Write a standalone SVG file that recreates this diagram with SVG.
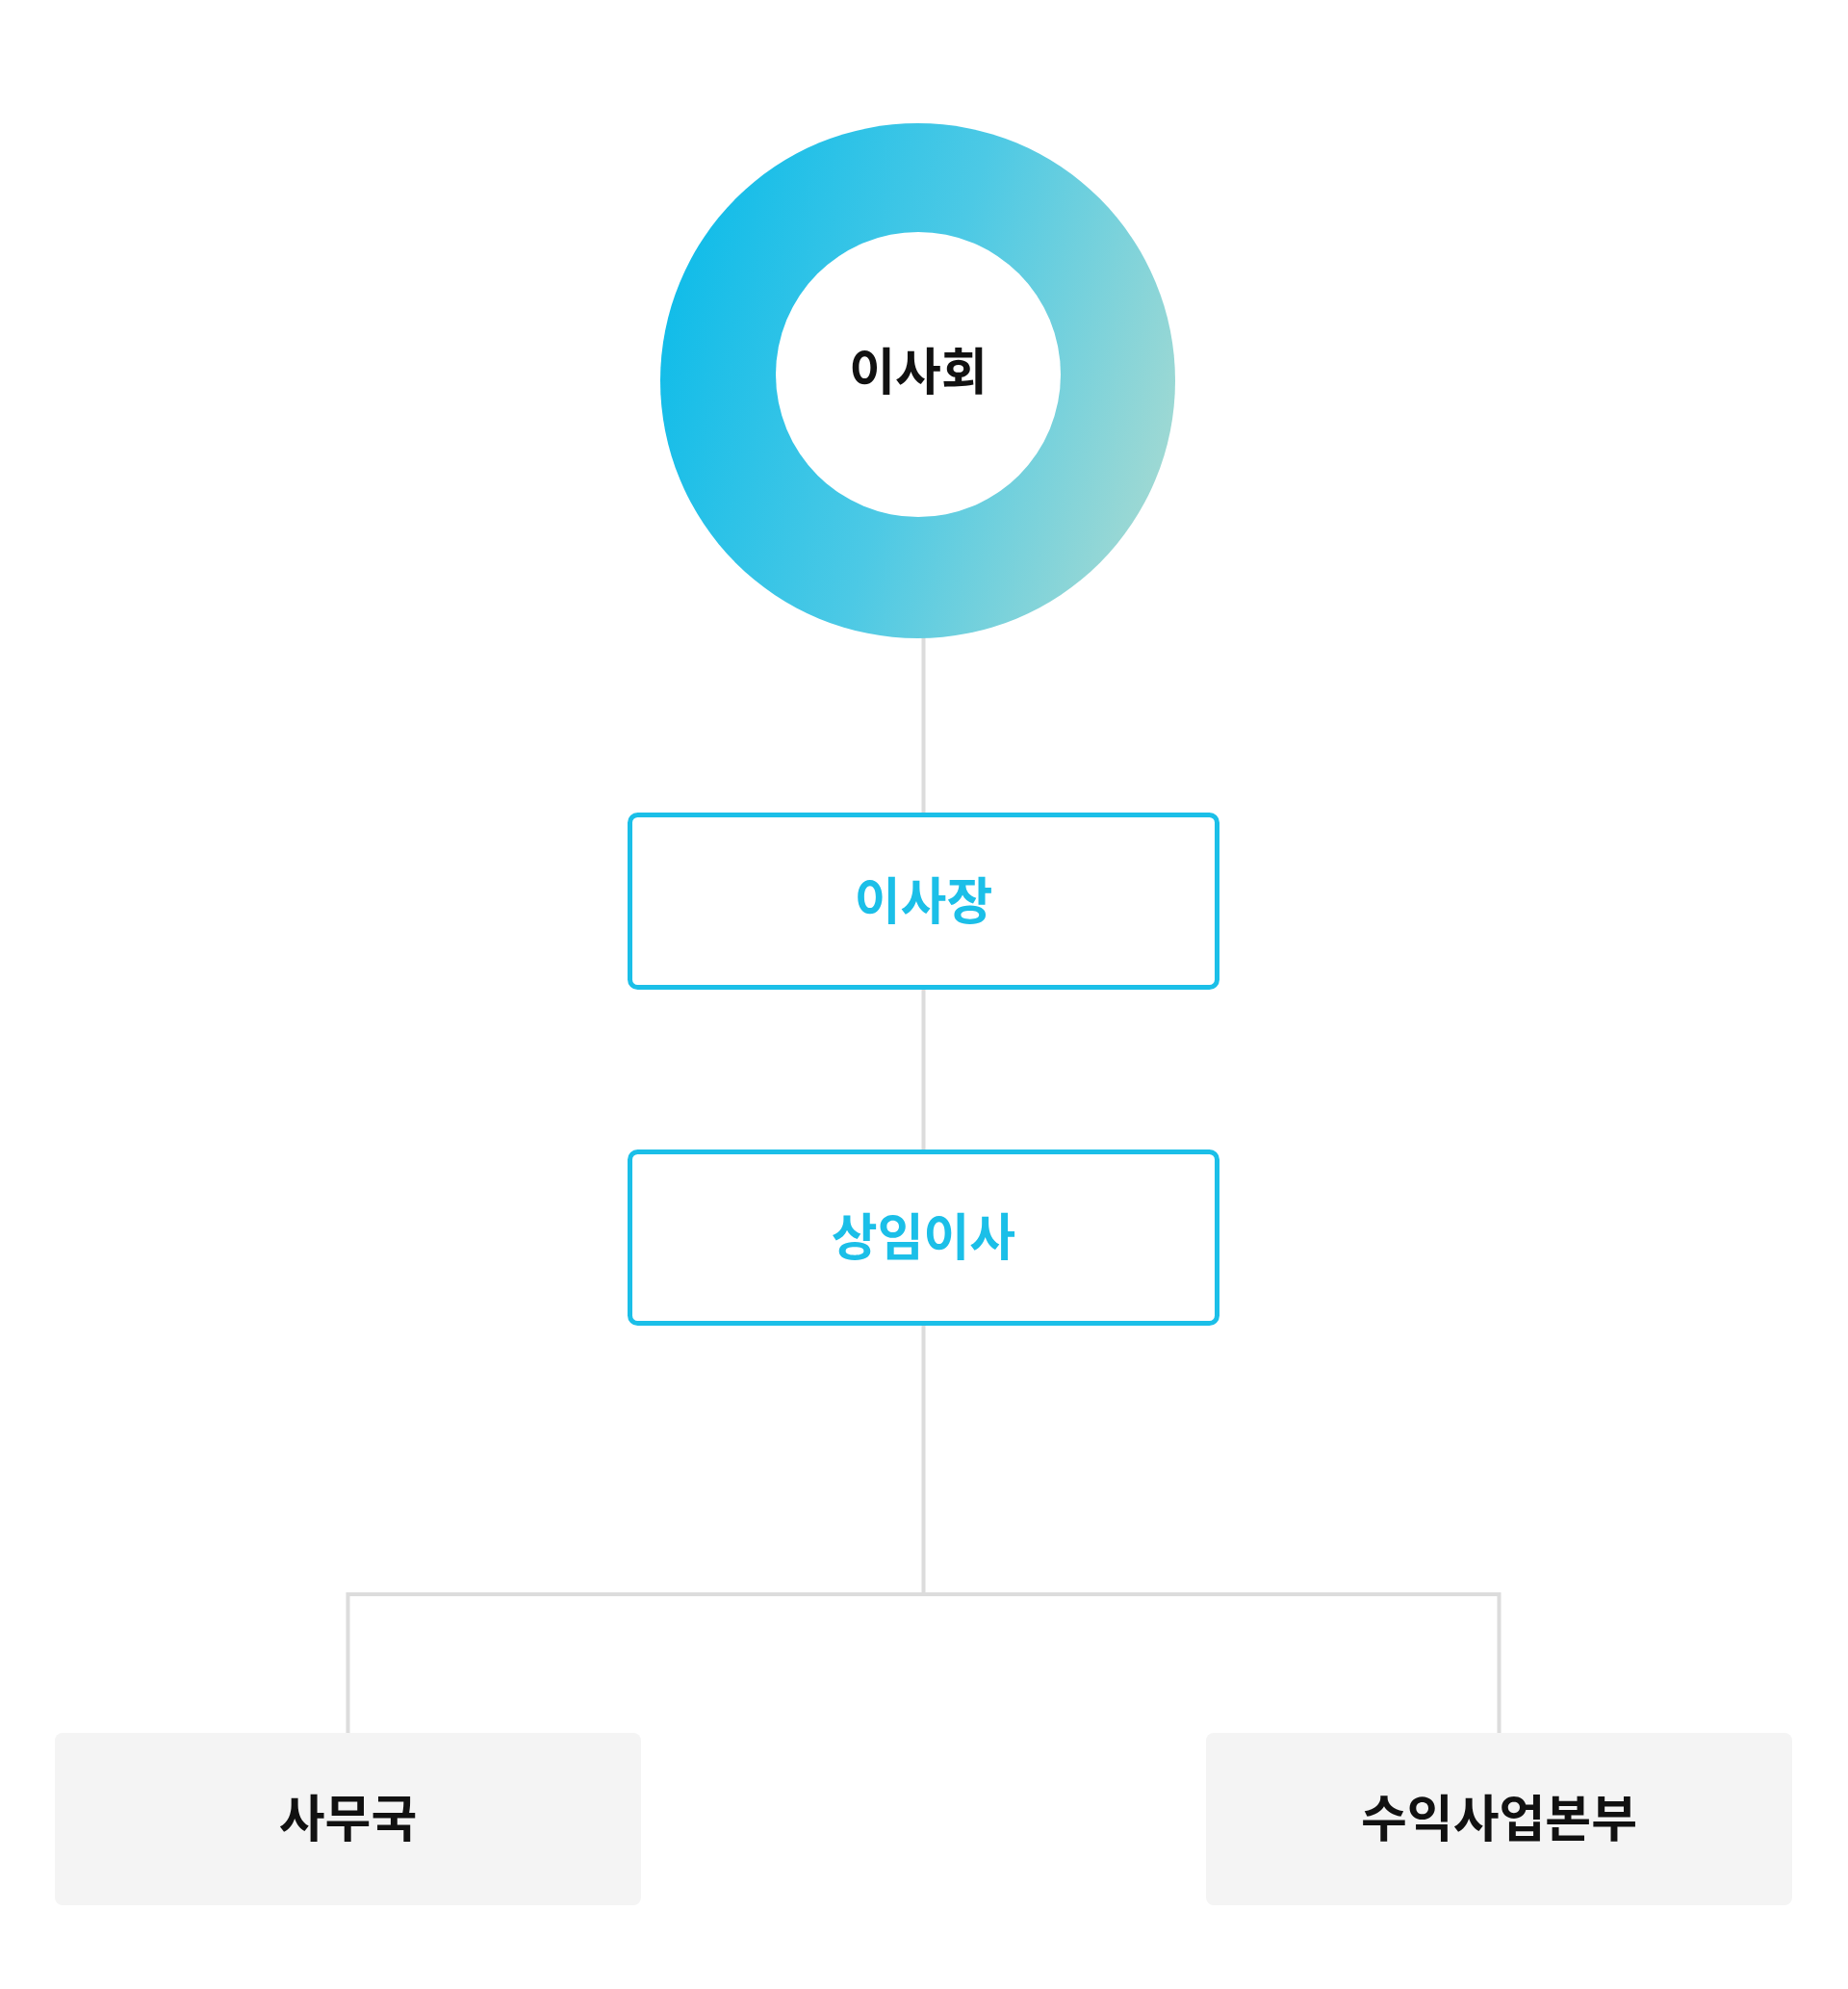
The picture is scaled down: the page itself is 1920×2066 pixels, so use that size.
<svg xmlns="http://www.w3.org/2000/svg" width="1920" height="2066" viewBox="0 0 1920 2066">
<defs>
<linearGradient id="ring" x1="0" y1="0.35" x2="1" y2="0.65">
<stop offset="0" stop-color="#10bce9"/>
<stop offset="0.5" stop-color="#4cc9e5"/>
<stop offset="1" stop-color="#a0d9d3"/>
</linearGradient>
<style>
.conn{fill:none;stroke:#dcdcdc;stroke-width:4}
.box{fill:#ffffff;stroke:#1bbfe8;stroke-width:5}
.leaf{fill:#f4f4f4}
.t{font-family:"Noto Sans CJK KR","Noto Sans",sans-serif;font-size:52px;font-weight:700;text-anchor:middle}
.blue{fill:#1bbfe8}
.dark{fill:#111111}
</style>
</defs>
<rect width="1920" height="2066" fill="#ffffff"/>
<g id="connectors">
<line class="conn" x1="959.5" y1="640" x2="959.5" y2="850"/>
<line class="conn" x1="959.5" y1="1025" x2="959.5" y2="1200"/>
<path class="conn" d="M959.5 1374 V1656 M361.5 1802 V1656 H1557.5 V1802"/>
</g>
<g id="node-board">
<circle cx="953.5" cy="395.5" r="267.5" fill="url(#ring)"/>
<circle cx="954" cy="389" r="148" fill="#ffffff"/>
<text class="t dark" x="954" y="405">이사회</text>
</g>
<g id="node-chairman">
<rect class="box" x="654.5" y="846.5" width="610" height="179" rx="8"/>
<text class="t blue" x="959.5" y="955">이사장</text>
</g>
<g id="node-director">
<rect class="box" x="654.5" y="1196.5" width="610" height="178" rx="8"/>
<text class="t blue" x="959.5" y="1304">상임이사</text>
</g>
<g id="node-secretariat">
<rect class="leaf" x="57" y="1800" width="609" height="179" rx="8"/>
<text class="t dark" x="361.5" y="1908">사무국</text>
</g>
<g id="node-revenue">
<rect class="leaf" x="1253" y="1800" width="609" height="179" rx="8"/>
<text class="t dark" x="1557.5" y="1908">수익사업본부</text>
</g>
</svg>
